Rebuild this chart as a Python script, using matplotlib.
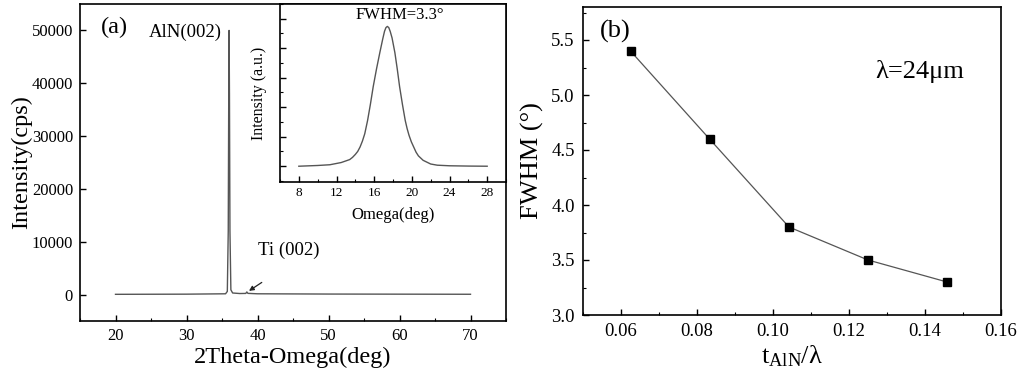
import numpy as np
import matplotlib
matplotlib.use('Agg')
import matplotlib.pyplot as plt
from matplotlib.ticker import MultipleLocator

plt.rcParams['font.family'] = ['Liberation Serif', 'DejaVu Serif']
plt.rcParams['mathtext.fontset'] = 'custom'
plt.rcParams['mathtext.rm'] = 'Liberation Serif'
plt.rcParams['mathtext.it'] = 'Liberation Serif:italic'
plt.rcParams['axes.linewidth'] = 1.2

# ── Data ─────────────────────────────────────────────────────────
# (a) 2theta-omega scan
tt_deg  = [20, 30, 35.5, 35.75, 35.88, 35.95, 36.0, 36.05, 36.12, 36.25, 36.5,
           37.5, 38.35, 38.5, 38.65, 40, 50, 60, 70]
tt_cps  = [50, 80, 150, 600, 12000, 38000, 50000, 38000, 12000, 900, 300,
           200, 220, 500, 230, 150, 100, 80, 60]

# inset: omega rocking curve (normalised)
om_deg  = [8, 10, 11.3, 12.5, 13.4, 13.7, 14.0, 14.25, 14.5, 14.75, 15.0, 15.3,
           15.6, 15.9, 16.25, 16.6, 16.9, 17.1, 17.25, 17.4, 17.55, 17.7, 17.9,
           18.2, 18.45, 18.7, 19.0, 19.3, 19.5, 19.7, 19.95, 20.2, 20.45, 20.7,
           21.2, 22.0, 22.7, 24, 26, 28]
om_int  = [0.0, 0.005, 0.01, 0.025, 0.045, 0.06, 0.08, 0.10, 0.13, 0.17, 0.22,
           0.31, 0.42, 0.54, 0.66, 0.77, 0.86, 0.915, 0.94, 0.948, 0.94, 0.915,
           0.87, 0.77, 0.66, 0.54, 0.42, 0.31, 0.255, 0.21, 0.165, 0.13, 0.095,
           0.07, 0.04, 0.015, 0.007, 0.003, 0.001, 0.0]

# (b) FWHM vs normalised thickness
t_ratio = [0.0625, 0.0833, 0.1042, 0.125, 0.1458]
fwhm    = [5.4, 4.6, 3.8, 3.5, 3.3]

W, H = 1024, 379
fig = plt.figure(figsize=(W/100, H/100), dpi=100)
fig.patch.set_facecolor('white')

def px_axes(l, t, r, b):
    return fig.add_axes([l/W, 1-b/H, (r-l)/W, (b-t)/H])

def ticks_in(ax, size, pad=3.5):
    ax.tick_params(which='both', direction='in', labelsize=size)
    ax.tick_params(which='major', length=4, width=1, pad=pad)
    ax.tick_params(which='minor', length=2.5, width=0.8)

# ── (a) ──────────────────────────────────────────────────────────
ax1 = px_axes(80, 4, 506, 321)
ax1.plot(tt_deg, tt_cps, color='#555555', lw=1.0)
ax1.set_xlim(15, 75); ax1.set_ylim(-5000, 55000)
ax1.set_xticks([20, 30, 40, 50, 60, 70])
ax1.xaxis.set_minor_locator(MultipleLocator(5))
ax1.set_yticks([0, 10000, 20000, 30000, 40000, 50000])
ticks_in(ax1, 12, pad=5)
ax1.set_xlabel('2Theta-Omega(deg)', fontsize=17.5, labelpad=2)
ax1.set_ylabel('Intensity(cps)', fontsize=17.5, labelpad=0)
ax1.text(17.9, 50500, '(a)', fontsize=17.5, ha='left', va='center')
ax1.text(35.0, 49700, 'AlN(002)', fontsize=13.5, ha='right', va='center')
ax1.text(40.1, 8400, 'Ti (002)', fontsize=13.5, ha='left', va='center')
ax1.annotate('', xy=(38.8, 700), xytext=(40.6, 2300),
             arrowprops=dict(arrowstyle='-|>', color='#222222', lw=0.9,
                             mutation_scale=7, shrinkA=0, shrinkB=0))

# inset
axi = px_axes(280, 4, 506, 182)
axi.plot(om_deg, om_int, color='#555555', lw=1.0)
axi.set_xlim(6, 30); axi.set_ylim(-0.107, 1.1)
axi.set_xticks([8, 12, 16, 20, 24, 28])
axi.xaxis.set_minor_locator(MultipleLocator(2))
axi.set_yticks([0, 0.2, 0.4, 0.6, 0.8, 1.0])
axi.yaxis.set_minor_locator(MultipleLocator(0.1))
axi.set_yticklabels([])
ticks_in(axi, 9.5)
axi.set_xlabel('Omega(deg)', fontsize=12, labelpad=6)
axi.set_ylabel('Intensity (a.u.)', fontsize=11.5, labelpad=6)
axi.text(18.7, 1.027, 'FWHM=3.3°', fontsize=12, ha='center', va='center')

# ── (b) ──────────────────────────────────────────────────────────
ax2 = px_axes(583, 7, 1001, 315)
ax2.plot(t_ratio, fwhm, color='#555555', lw=0.9, marker='s', ms=5.5,
         mfc='black', mec='black')
ax2.set_xlim(0.05, 0.16); ax2.set_ylim(3.0, 5.8)
ax2.set_xticks([0.06, 0.08, 0.10, 0.12, 0.14, 0.16])
ax2.set_xticklabels(['0.06', '0.08', '0.10', '0.12', '0.14', '0.16'])
ax2.xaxis.set_minor_locator(MultipleLocator(0.01))
ax2.set_yticks([3.0, 3.5, 4.0, 4.5, 5.0, 5.5])
ax2.set_yticklabels(['3.0', '3.5', '4.0', '4.5', '5.0', '5.5'])
ax2.yaxis.set_minor_locator(MultipleLocator(0.25))
ticks_in(ax2, 13.5, pad=6)
ax2.set_xlabel(r'$\mathrm{t_{AlN}/λ}$', fontsize=19, labelpad=2)
ax2.set_ylabel('FWHM (°)', fontsize=19, labelpad=5)
ax2.text(0.0544, 5.58, '(b)', fontsize=19, ha='left', va='center')
ax2.text(0.127, 5.21, 'λ=24μm', fontsize=19, ha='left', va='center')

plt.savefig('out.png', dpi=100, facecolor='white')
